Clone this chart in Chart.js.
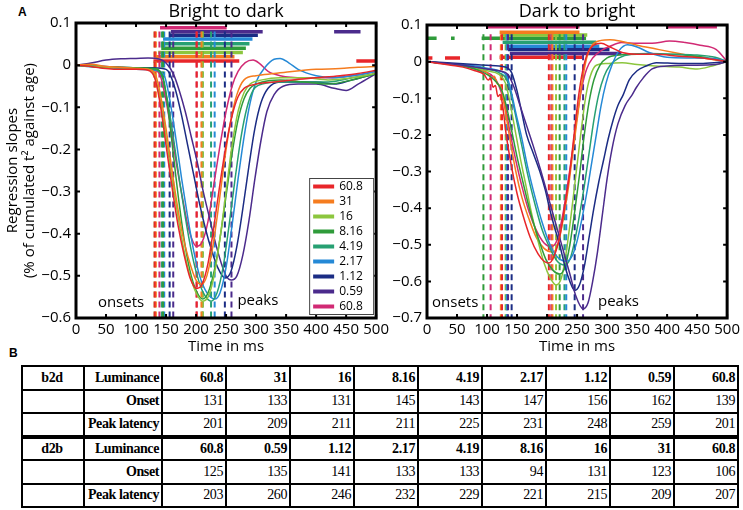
<!DOCTYPE html>
<html>
<head>
<meta charset="utf-8">
<script src="https://cdn.jsdelivr.net/npm/chart.js@4/dist/chart.umd.min.js"></script>
<style>
body { margin: 0; width: 743px; height: 510px; background: #fff; position: relative; overflow: hidden; font-family: "Open Sans", sans-serif; }
canvas { position: absolute; top: 0; }
#left { left: 0; }
#right { left: 385px; }
.tag { position: absolute; font: bold 12px "Liberation Sans", Arial, sans-serif; }
table { position: absolute; left: 21px; top: 365px; width: 716px; border-collapse: collapse; table-layout: fixed; font: bold 14px "Liberation Serif", serif; }
tr { height: 23.5px; }
td { border: 2px solid #000; padding: 0 2px 0 0; text-align: right; line-height: 1; letter-spacing: -0.4px; }
td.first { text-align: center; }
td.plain { font-weight: normal; }
tr.split td { border-top-width: 4px; }
</style>
</head>
<body>
<div class="tag" style="left:18px;top:5px">A</div>
<div class="tag" style="left:9px;top:346px">B</div>
<canvas id="left" width="392" height="362"></canvas>
<canvas id="right" width="358" height="362"></canvas>
<table id="tbl"></table>
<script>
// luminance conditions, in the order of each row of the table
const b2dLum = ['60.8', '31', '16', '8.16', '4.19', '2.17', '1.12', '0.59', '60.8'];
const b2dOnset = [131, 133, 131, 145, 143, 147, 156, 162, 139];
const b2dPeak = [201, 209, 211, 211, 225, 231, 248, 259, 201];
const d2bLum = ['60.8', '0.59', '1.12', '2.17', '4.19', '8.16', '16', '31', '60.8'];
const d2bOnset = [125, 135, 141, 133, 133, 94, 131, 123, 106];
const d2bPeak = [203, 260, 246, 232, 229, 221, 215, 209, 207];

// regression slope curves, [time ms, slope]
const b2d60 = [[0,0],[25,-0.003],[50,-0.008],[75,-0.01],[100,-0.01],[120,-0.012],[131,-0.03],[140,-0.09],[150,-0.19],[160,-0.29],[170,-0.38],[180,-0.45],[190,-0.505],[201,-0.53],[210,-0.52],[220,-0.47],[230,-0.38],[240,-0.28],[250,-0.19],[260,-0.12],[270,-0.075],[280,-0.055],[300,-0.045],[330,-0.04],[360,-0.035],[400,-0.03],[440,-0.025],[470,-0.02],[500,-0.012]];
const b2d31 = [[0,0],[25,0.002],[50,-0.003],[75,-0.005],[100,-0.008],[120,-0.01],[133,-0.025],[142,-0.08],[152,-0.17],[162,-0.27],[172,-0.36],[182,-0.43],[192,-0.48],[200,-0.51],[209,-0.52],[218,-0.5],[228,-0.43],[238,-0.33],[248,-0.22],[258,-0.13],[268,-0.07],[280,-0.035],[300,-0.025],[330,-0.02],[360,-0.015],[400,-0.01],[440,-0.008],[470,-0.005],[500,-0.003]];
const b2d16 = [[0,0],[25,-0.002],[50,-0.005],[75,-0.006],[100,-0.008],[120,-0.01],[131,-0.025],[140,-0.08],[150,-0.17],[160,-0.27],[170,-0.36],[180,-0.44],[190,-0.5],[200,-0.54],[211,-0.56],[220,-0.55],[230,-0.5],[240,-0.41],[250,-0.3],[260,-0.19],[270,-0.11],[280,-0.065],[290,-0.045],[310,-0.035],[340,-0.03],[380,-0.03],[420,-0.035],[460,-0.03],[500,-0.02]];
const b2d816 = [[0,0],[25,-0.003],[50,-0.006],[75,-0.005],[100,-0.006],[130,-0.008],[145,-0.03],[153,-0.1],[162,-0.21],[172,-0.33],[182,-0.43],[192,-0.5],[202,-0.54],[211,-0.555],[220,-0.54],[230,-0.49],[240,-0.41],[250,-0.31],[260,-0.21],[270,-0.13],[280,-0.08],[290,-0.055],[310,-0.04],[340,-0.035],[380,-0.04],[420,-0.045],[460,-0.035],[500,-0.02]];
const b2d419 = [[0,0],[25,-0.002],[50,-0.004],[75,-0.006],[100,-0.008],[130,-0.01],[143,-0.025],[152,-0.08],[162,-0.17],[172,-0.27],[182,-0.36],[192,-0.44],[202,-0.5],[212,-0.54],[225,-0.56],[235,-0.54],[245,-0.48],[255,-0.38],[265,-0.27],[275,-0.17],[285,-0.1],[295,-0.06],[310,-0.045],[340,-0.04],[380,-0.04],[420,-0.04],[460,-0.03],[500,-0.02]];
const b2d217 = [[0,0],[25,-0.004],[50,-0.006],[75,-0.008],[100,-0.01],[130,-0.012],[147,-0.025],[156,-0.08],[166,-0.17],[176,-0.27],[186,-0.36],[196,-0.44],[206,-0.5],[218,-0.54],[231,-0.555],[240,-0.54],[250,-0.48],[260,-0.38],[270,-0.27],[280,-0.17],[290,-0.09],[300,-0.04],[315,-0.005],[330,0.014],[340,0.016],[355,0.005],[370,-0.01],[400,-0.025],[430,-0.03],[460,-0.025],[500,-0.015]];
const b2d112 = [[0,0],[25,-0.002],[50,-0.003],[75,-0.005],[100,-0.006],[130,-0.006],[150,-0.01],[156,-0.02],[166,-0.06],[176,-0.12],[186,-0.19],[196,-0.26],[206,-0.33],[216,-0.39],[226,-0.44],[236,-0.48],[248,-0.505],[258,-0.49],[268,-0.43],[278,-0.34],[288,-0.24],[298,-0.15],[308,-0.09],[320,-0.055],[340,-0.04],[370,-0.04],[400,-0.04],[430,-0.045],[460,-0.035],[500,-0.02]];
const b2d059 = [[0,0],[25,0.005],[50,0.012],[75,0.015],[100,0.016],[120,0.017],[140,0.014],[150,0.005],[162,-0.02],[172,-0.06],[182,-0.11],[192,-0.17],[202,-0.23],[212,-0.3],[222,-0.36],[232,-0.42],[242,-0.47],[250,-0.5],[259,-0.51],[268,-0.5],[278,-0.45],[288,-0.37],[298,-0.27],[308,-0.18],[318,-0.11],[330,-0.07],[345,-0.05],[370,-0.045],[400,-0.045],[430,-0.055],[450,-0.06],[470,-0.045],[500,-0.02]];
const b2d60b = [[0,0],[25,-0.002],[50,-0.004],[75,-0.006],[100,-0.008],[125,-0.01],[139,-0.02],[148,-0.07],[158,-0.15],[168,-0.24],[178,-0.32],[188,-0.39],[201,-0.43],[210,-0.42],[220,-0.37],[230,-0.28],[240,-0.19],[250,-0.11],[260,-0.05],[270,-0.015],[282,0.006],[295,0.012],[305,0.005],[320,-0.015],[340,-0.025],[380,-0.03],[420,-0.03],[460,-0.025],[500,-0.015]];

const d2b60 = [[0,0],[20,-0.005],[40,-0.01],[60,-0.015],[80,-0.025],[95,-0.035],[102,-0.05],[106,-0.045],[110,-0.07],[114,-0.065],[118,-0.095],[122,-0.09],[126,-0.12],[132,-0.2],[140,-0.28],[150,-0.36],[160,-0.42],[172,-0.48],[185,-0.525],[195,-0.545],[203,-0.55],[212,-0.53],[222,-0.47],[230,-0.39],[238,-0.3],[245,-0.2],[252,-0.1],[260,-0.02],[268,0.025],[278,0.045],[290,0.05],[305,0.04],[325,0.025],[350,0.02],[380,0.02],[420,0.015],[460,0.01],[500,0]];
const d2b059 = [[0,0],[20,-0.003],[40,-0.006],[60,-0.01],[80,-0.015],[100,-0.02],[120,-0.025],[135,-0.035],[145,-0.07],[155,-0.12],[165,-0.17],[177,-0.23],[190,-0.3],[202,-0.37],[214,-0.44],[226,-0.51],[238,-0.58],[248,-0.64],[260,-0.675],[268,-0.66],[276,-0.6],[284,-0.52],[292,-0.42],[300,-0.32],[308,-0.24],[318,-0.17],[330,-0.12],[342,-0.09],[349,-0.07],[360,-0.045],[375,-0.02],[400,-0.012],[440,-0.01],[480,-0.008],[500,0]];
const d2b112 = [[0,0],[20,-0.002],[40,-0.004],[60,-0.006],[80,-0.008],[100,-0.01],[120,-0.012],[135,-0.018],[141,-0.03],[150,-0.08],[158,-0.14],[166,-0.2],[177,-0.25],[188,-0.3],[197,-0.35],[204,-0.4],[212,-0.45],[221,-0.5],[230,-0.56],[238,-0.6],[246,-0.625],[254,-0.61],[262,-0.56],[270,-0.48],[278,-0.4],[286,-0.33],[294,-0.27],[302,-0.21],[310,-0.16],[318,-0.12],[327,-0.09],[337,-0.05],[350,-0.025],[365,-0.012],[382,-0.003],[420,-0.005],[460,-0.005],[500,0]];
const d2b217 = [[0,0],[20,-0.003],[40,-0.006],[60,-0.008],[80,-0.012],[100,-0.018],[120,-0.025],[133,-0.04],[140,-0.08],[148,-0.14],[158,-0.21],[168,-0.29],[180,-0.37],[192,-0.44],[205,-0.5],[218,-0.535],[232,-0.545],[242,-0.53],[250,-0.49],[258,-0.43],[266,-0.36],[274,-0.28],[282,-0.2],[290,-0.12],[298,-0.06],[308,-0.01],[320,0.03],[334,0.046],[350,0.04],[370,0.025],[400,0.012],[440,0.01],[480,0.008],[500,0]];
const d2b419 = [[0,0],[20,-0.004],[40,-0.007],[60,-0.01],[80,-0.015],[100,-0.02],[120,-0.03],[133,-0.05],[140,-0.09],[148,-0.15],[158,-0.23],[168,-0.31],[180,-0.39],[192,-0.46],[205,-0.51],[217,-0.545],[229,-0.555],[238,-0.54],[246,-0.49],[254,-0.42],[262,-0.34],[270,-0.25],[278,-0.16],[286,-0.09],[295,-0.04],[305,-0.01],[320,0.01],[340,0.02],[370,0.022],[410,0.02],[450,0.018],[480,0.012],[500,0]];
const d2b816 = [[0,0],[20,-0.004],[40,-0.008],[60,-0.012],[80,-0.02],[94,-0.03],[105,-0.04],[115,-0.055],[125,-0.08],[132,-0.12],[140,-0.18],[150,-0.26],[160,-0.33],[172,-0.41],[185,-0.48],[198,-0.54],[210,-0.57],[221,-0.58],[230,-0.56],[238,-0.5],[246,-0.41],[254,-0.31],[262,-0.2],[270,-0.11],[278,-0.05],[288,-0.01],[300,0.01],[320,0.018],[350,0.02],[400,0.02],[450,0.015],[500,0]];
const d2b16 = [[0,0],[20,-0.004],[40,-0.008],[60,-0.012],[80,-0.018],[100,-0.025],[120,-0.035],[131,-0.06],[138,-0.11],[146,-0.18],[155,-0.26],[165,-0.34],[175,-0.42],[185,-0.49],[195,-0.55],[205,-0.59],[215,-0.61],[224,-0.59],[232,-0.52],[240,-0.42],[248,-0.31],[256,-0.2],[264,-0.1],[272,-0.04],[282,-0.01],[300,-0.005],[325,-0.003],[350,-0.008],[380,-0.012],[420,-0.015],[450,-0.02],[475,-0.012],[500,0]];
const d2b31 = [[0,0],[20,-0.003],[40,-0.006],[60,-0.01],[80,-0.018],[100,-0.03],[108,-0.045],[112,-0.04],[117,-0.06],[123,-0.07],[130,-0.13],[138,-0.21],[148,-0.3],[158,-0.37],[170,-0.43],[182,-0.48],[195,-0.51],[209,-0.52],[218,-0.5],[228,-0.42],[235,-0.35],[242,-0.26],[250,-0.16],[258,-0.06],[266,0.01],[275,0.045],[290,0.058],[305,0.06],[325,0.055],[350,0.045],[380,0.035],[420,0.022],[460,0.01],[500,0]];
const d2b60b = [[0,0],[20,-0.004],[40,-0.008],[60,-0.012],[80,-0.02],[100,-0.03],[106,-0.035],[115,-0.05],[123,-0.08],[130,-0.12],[138,-0.19],[148,-0.27],[158,-0.34],[170,-0.41],[182,-0.46],[195,-0.495],[207,-0.505],[216,-0.49],[226,-0.42],[234,-0.34],[242,-0.25],[250,-0.15],[258,-0.07],[266,-0.02],[276,0.01],[290,0.03],[305,0.042],[324,0.052],[350,0.05],[375,0.05],[404,0.056],[430,0.052],[455,0.045],[482,0.033],[500,0]];

// significance bars: [condition index, from ms, to ms, slope level]
const b2dBars = [[8,140,251,0.089],[7,158,311,0.079],[7,430,474,0.079],[6,156,303,0.071],[5,145,294,0.062],[4,142,289,0.051],[3,142,283,0.04],[2,137,278,0.03],[1,133,264,0.02],[0,129,272,0.01],[0,467,500,0.01]];
const d2bBars = [[8,101,254,0.095],[8,400,483,0.095],[7,121,254,0.08],[6,125,267,0.073],[5,0,16,0.064],[5,40,46,0.064],[5,91,265,0.064],[4,126,282,0.053],[3,133,287,0.042],[2,135,304,0.033],[1,138,324,0.022],[0,121,259,0.012],[0,0,9,0.01],[0,30,55,0.01]];

const RED = '#e8262a', ORANGE = '#f57c1f', LGREEN = '#8cc63e', GREEN = '#2f9b3a',
      TEAL = '#27a072', BLUE = '#2589d6', NAVY = '#1b2c84', PURPLE = '#4b2b8c', MAGENTA = '#d12a74';
const b2dColors = [RED, ORANGE, LGREEN, GREEN, TEAL, BLUE, NAVY, PURPLE, MAGENTA];
const d2bColors = [RED, PURPLE, NAVY, BLUE, TEAL, GREEN, LGREEN, ORANGE, MAGENTA];

Chart.defaults.font.family = '"Open Sans", sans-serif';
Chart.defaults.color = '#000';

const toXY = pts => pts.map(p => ({ x: p[0], y: p[1] }));

function line(ctx, x1, y1, x2, y2) {
    ctx.moveTo(x1, y1);
    ctx.lineTo(x2, y2);
}

// black box with inward ticks, matlab style
const frame = {
    id: 'frame',
    afterDatasetsDraw(chart) {
        const { ctx, chartArea: a, scales: { x, y } } = chart;
        ctx.save();
        ctx.strokeStyle = '#000';
        ctx.lineWidth = 2;
        ctx.beginPath();
        for (const t of x.ticks) {
            const px = x.getPixelForValue(t.value);
            line(ctx, px, a.bottom, px, a.bottom - 4);
            line(ctx, px, a.top, px, a.top + 4);
        }
        for (const t of y.ticks) {
            const py = y.getPixelForValue(t.value);
            line(ctx, a.left, py, a.left + 4, py);
            line(ctx, a.right, py, a.right - 4, py);
        }
        ctx.stroke();
        ctx.lineWidth = 3;
        ctx.strokeRect(a.left, a.top, a.width, a.height);
        ctx.restore();
    }
};

const notes = {
    id: 'notes',
    afterDatasetsDraw(chart, args, opts) {
        if (!opts.items) return;
        const { ctx, scales: { x, y } } = chart;
        ctx.save();
        ctx.font = '15px "Open Sans"';
        ctx.fillStyle = '#000';
        ctx.textAlign = 'center';
        ctx.textBaseline = 'middle';
        for (const [label, t, v] of opts.items) {
            ctx.fillText(label, x.getPixelForValue(t), y.getPixelForValue(v));
        }
        ctx.restore();
    }
};

const keyBox = {
    id: 'keyBox',
    afterDraw(chart, args, opts) {
        if (!opts.labels) return;
        const { ctx, chartArea: a } = chart;
        const w = 65, h = 137;
        const x0 = a.right - 2 - w, y0 = a.bottom - 3 - h;
        ctx.save();
        ctx.fillStyle = '#fff';
        ctx.fillRect(x0, y0, w, h);
        ctx.strokeStyle = '#444';
        ctx.lineWidth = 1;
        ctx.strokeRect(x0 + 0.5, y0 + 0.5, w - 1, h - 1);
        ctx.font = '12px "Open Sans"';
        ctx.textBaseline = 'middle';
        opts.labels.forEach((lab, i) => {
            const yy = y0 + 8.5 + i * 15;
            ctx.strokeStyle = opts.colors[i];
            ctx.lineWidth = 4;
            ctx.beginPath();
            line(ctx, x0 + 4, yy, x0 + 25, yy);
            ctx.stroke();
            ctx.fillStyle = '#000';
            ctx.fillText(lab, x0 + 30, yy);
        });
        ctx.restore();
    }
};

function buildDatasets(curves, colors, onsets, peaks, bars, top, bottom) {
    const sets = [];
    curves.forEach((pts, i) => sets.push({
        data: toXY(pts), borderColor: colors[i], borderWidth: 1.5,
        pointRadius: 0, cubicInterpolationMode: 'monotone'
    }));
    const dashed = (t, i) => ({
        data: [{ x: t, y: top }, { x: t, y: bottom }], borderColor: colors[i],
        borderWidth: 2, borderDash: [6, 4], pointRadius: 0
    });
    onsets.forEach((t, i) => sets.push(dashed(t, i)));
    peaks.forEach((t, i) => sets.push(dashed(t, i)));
    for (const [i, t0, t1, v] of bars) {
        sets.push({
            data: [{ x: t0, y: v }, { x: t1, y: v }], borderColor: colors[i],
            borderWidth: 3.5, pointRadius: 0
        });
    }
    return sets;
}

const slopeLabel = v => {
    const r = Math.round(v * 10) / 10;
    if (r === 0) return '0';
    return (r < 0 ? '\u2212' : '') + Math.abs(r).toFixed(1);
};

function buildChart(id, cfg) {
    new Chart(document.getElementById(id), {
        type: 'line',
        data: { datasets: cfg.datasets },
        options: {
            responsive: false,
            animation: false,
            events: [],
            layout: { autoPadding: false, padding: { left: 0, right: cfg.padRight, top: 1.4, bottom: 0 } },
            plugins: {
                legend: { display: false },
                tooltip: { enabled: false },
                title: {
                    display: true, text: cfg.title, fullSize: false,
                    font: { size: 18, weight: 'normal' }, color: '#000',
                    padding: { top: 0, bottom: cfg.titleGap }
                },
                notes: { items: cfg.notes },
                keyBox: cfg.key || {}
            },
            scales: {
                x: {
                    type: 'linear', min: 0, max: 500,
                    grid: { display: false, drawTicks: false }, border: { display: false },
                    ticks: { stepSize: 50, maxRotation: 0, autoSkip: false, padding: 3, font: { size: 15 } },
                    title: { display: true, text: 'Time in ms', font: { size: 15 }, padding: { top: 0, bottom: 6 } },
                    afterFit: s => { s.height = 44; }
                },
                y: {
                    min: cfg.yMin, max: 0.1,
                    grid: { display: false, drawTicks: false }, border: { display: false },
                    ticks: { stepSize: 0.1, padding: 5, font: { size: 15 }, callback: slopeLabel },
                    title: cfg.yTitle,
                    afterFit: s => { s.width = cfg.yWidth; }
                }
            }
        },
        plugins: [frame, notes, keyBox]
    });
}

buildChart('left', {
    title: 'Bright to dark',
    titleGap: 0,
    padRight: 9,
    yMin: -0.6,
    yWidth: 76,
    yTitle: {
        display: true,
        text: ['Regression slopes', '(% of cumulated t\u00b2 against age)'],
        font: { size: 15, lineHeight: 1.15 },
        padding: { top: 4, bottom: 0 }
    },
    notes: [['onsets', 75, -0.563], ['peaks', 303, -0.56]],
    key: { labels: b2dLum, colors: b2dColors },
    datasets: buildDatasets(
        [b2d60, b2d31, b2d16, b2d816, b2d419, b2d217, b2d112, b2d059, b2d60b],
        b2dColors, b2dOnset, b2dPeak, b2dBars, 0.08, -0.6)
});

buildChart('right', {
    title: 'Dark to bright',
    titleGap: 2,
    padRight: 15,
    yMin: -0.7,
    yWidth: 42,
    yTitle: { display: false },
    notes: [['onsets', 47, -0.658], ['peaks', 319, -0.656]],
    datasets: buildDatasets(
        [d2b60, d2b059, d2b112, d2b217, d2b419, d2b816, d2b16, d2b31, d2b60b],
        d2bColors, d2bOnset, d2bPeak, d2bBars, 0.075, -0.7)
});

// table B
function row(head, name, values, bold, cls) {
    const tr = document.createElement('tr');
    if (cls) tr.className = cls;
    let html = `<td class="first">${head}</td><td>${name}</td>`;
    for (const v of values) html += `<td${bold ? '' : ' class="plain"'}>${v}</td>`;
    tr.innerHTML = html;
    return tr;
}

const tbl = document.getElementById('tbl');
const cols = document.createElement('colgroup');
cols.innerHTML = '<col style="width:62px"><col style="width:78px">' + '<col style="width:64px">'.repeat(9);
tbl.appendChild(cols);
tbl.appendChild(row('b2d', 'Luminance', b2dLum, true));
tbl.appendChild(row('', 'Onset', b2dOnset, false));
tbl.appendChild(row('', 'Peak latency', b2dPeak, false));
tbl.appendChild(row('d2b', 'Luminance', d2bLum, true, 'split'));
tbl.appendChild(row('', 'Onset', d2bOnset, false));
tbl.appendChild(row('', 'Peak latency', d2bPeak, false));
</script>
</body>
</html>
